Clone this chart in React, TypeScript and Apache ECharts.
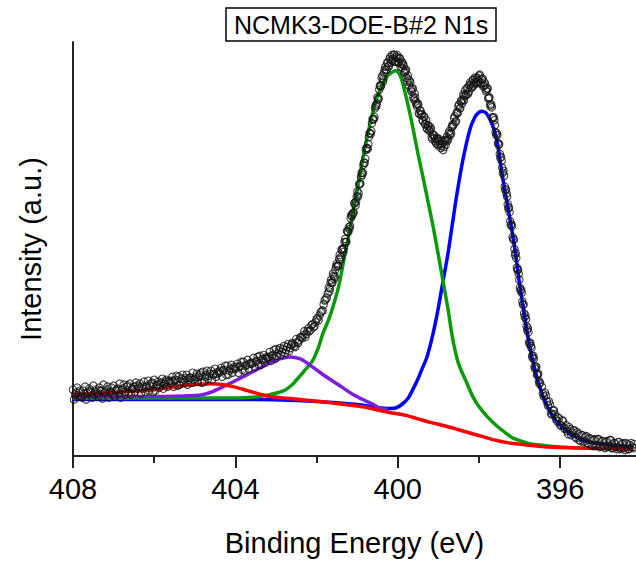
import React, { useEffect, useRef } from "react";
import * as echarts from "echarts";

const TITLE = "NCMK3-DOE-B#2 N1s";
const X_NAME = "Binding Energy (eV)";
const Y_NAME = "Intensity (a.u.)";
const X_MIN = 394.13;
const X_MAX = 408;
const X_MAJOR_TICKS = [408, 404, 400, 396];
const X_MINOR_TICKS = [406, 402, 398];

// Measured spectrum, scan segments: start energy (eV), step (eV), intensities
const SCAN_A_START = 408.0;
const SCAN_A_STEP = 0.05;
const SCAN_A = [
  67, 62, 69, 64, 60, 66, 70, 63, 68, 64, 71, 65, 63, 69, 66, 72, 65, 70, 64, 69,
  71, 66, 68, 73, 67, 72, 65, 71, 73, 68, 70, 74, 68, 73, 70, 75, 70, 76, 71, 74,
  77, 71, 75, 72, 78, 73, 77, 75, 74, 80, 76, 81, 80, 75, 82, 77, 82, 77, 79, 84,
  78, 83, 80, 84, 85, 80, 86, 81, 86, 82, 88, 83, 84, 89, 86, 91, 91, 86, 92, 88,
  88, 93, 90, 95, 95, 91, 97, 93, 93, 99, 95, 100, 101, 97, 102, 98, 99, 105, 101, 107,
  108, 104, 109, 105, 111, 107, 113, 109, 114, 111, 118, 114, 120, 119, 126, 123,
  129, 127, 133, 131, 138, 137, 145, 147, 157, 160,
];
const SCAN_A2_START = 407.975;
const SCAN_A2 = [
  57, 64, 60, 66, 59, 63, 57, 65, 66, 59, 62, 67, 60, 66, 58, 64, 67, 59, 65, 62,
  60, 67, 63, 59, 68, 62, 70, 64, 62, 68, 65, 71, 70, 63, 68, 65, 71, 66, 73, 65,
  66, 72, 69, 74, 68, 75, 70, 76, 76, 70, 77, 71, 72, 78, 74, 79, 72, 79, 74, 77,
  80, 75, 82, 74, 75, 82, 78, 83, 77, 83, 80, 85, 86, 80, 87, 82, 82, 88, 84, 90,
  90, 84, 91, 87, 86, 92, 88, 94, 94, 90, 96, 92, 92, 98, 94, 100, 100, 96, 102, 98,
  101, 107, 102, 108, 104, 110, 106, 112, 113, 110, 115, 117, 120, 122, 120, 126,
  126, 132, 130, 135, 139, 142, 146, 153, 158, 164,
];
const SCAN_B_START = 401.7;
const SCAN_B_STEP = 0.03;
const SCAN_B = [
  170, 169, 178, 175, 182, 181, 191, 192, 192, 203,
  201, 209, 206, 216, 216, 227, 226, 229, 240, 242,
  245, 255, 253, 262, 262, 274, 275, 286, 286, 296,
  300, 311, 310, 322, 326, 328, 340, 340, 351, 353,
  362, 361, 374, 374, 384, 381, 390, 390, 397, 393,
  401, 397, 405, 401, 405, 398, 405, 398, 402, 393,
  398, 396, 387, 389, 382, 384, 374, 377, 368, 371,
  360, 362, 355, 356, 346, 349, 345, 339, 343, 335,
  339, 330, 333, 328, 330, 320, 324, 321, 316, 321,
  314, 318, 311, 315, 309, 318, 314, 322, 320, 328,
  324, 332, 333, 341, 337, 346, 346, 355, 351, 359,
  360, 359, 369, 365, 372, 368, 377, 372, 379, 374,
  382, 377, 382, 377, 385, 377, 381, 373, 377, 370,
  371, 361, 362, 353, 352, 341, 339, 327, 326, 316,
  315, 301, 298, 286, 283, 269, 265, 254, 251, 237,
  234, 221, 218, 203, 200, 188, 184, 170, 168, 156,
  153, 140, 138, 127, 125, 113, 111, 101, 101, 90,
  90, 82, 83, 73,
];
const SCAN_B2_START = 401.685;
const SCAN_B2 = [
  166, 175, 175, 184, 179, 188, 194, 192, 199, 198,
  208, 208, 210, 219, 216, 227, 231, 232, 243, 244,
  246, 256, 257, 267, 265, 275, 282, 284, 294, 296,
  309, 311, 315, 326, 325, 336, 340, 342, 354, 356,
  360, 370, 373, 382, 378, 387, 393, 390, 397, 394,
  403, 400, 399, 405, 398, 403, 402, 397, 401, 396,
  392, 394, 388, 390, 378, 380, 379, 370, 371, 362,
  366, 358, 353, 355, 345, 348, 345, 338, 342, 335,
  331, 334, 329, 332, 322, 324, 324, 318, 320, 314,
  320, 315, 313, 318, 312, 319, 319, 318, 326, 325,
  326, 334, 335, 343, 338, 347, 353, 351, 358, 356,
  365, 364, 364, 371, 366, 374, 375, 372, 380, 377,
  376, 381, 379, 384, 376, 380, 381, 374, 375, 368,
  371, 362, 355, 355, 342, 342, 334, 324, 324, 314,
  305, 302, 291, 288, 272, 269, 262, 250, 246, 233,
  232, 219, 209, 205, 190, 188, 178, 167, 165, 153,
  144, 142, 131, 129, 115, 114, 109, 99, 98, 88,
  90, 82, 76, 74,
];
const SCAN_C_START = 396.45;
const SCAN_C_STEP = 0.05;
const SCAN_C = [
  70, 60, 61, 51, 52, 42, 46, 37, 39, 31, 36, 28, 31, 22, 27, 23, 26, 18, 22, 15,
  21, 15, 20, 12, 17, 10, 17, 11, 17, 10, 15, 8, 15, 10, 16, 8, 13, 7, 14, 8,
  13, 6, 12, 7, 13, 8,
];
const SCAN_C2_START = 396.425;
const SCAN_C2 = [
  63, 64, 55, 55, 43, 46, 42, 35, 38, 31, 35, 27, 25, 29, 21, 26, 19, 24, 16, 21,
  14, 19, 13, 18, 11, 16, 10, 17, 9, 15, 10, 14, 9, 16, 8, 13, 9, 14, 7, 12,
  8, 13, 7, 11, 9, 12,
];

// Fitted components (energy, intensity)
const PURPLE_E = [408.0, 406.0, 405.0, 404.8, 404.56, 404.2, 403.9, 403.57, 403.2, 402.9, 402.66, 402.4, 402.17, 402.0, 401.8, 401.5, 401.1, 400.86, 400.6, 400.44, 400.25];
const PURPLE_I = [60, 60, 61, 62, 65, 72, 78, 85, 93, 98, 100, 98, 92, 87, 81, 73, 62, 57, 52, 48, 47];

const GREEN_E = [408.0, 406.0, 404.0, 403.5, 403.15, 402.8, 402.6, 402.49, 402.3, 402.1, 401.95, 401.85, 401.7, 401.6, 401.45, 401.35, 401.2, 401.0, 400.85, 400.7, 400.55, 400.4, 400.25, 400.12, 400.05, 399.95, 399.87, 399.75, 399.63, 399.5, 399.38, 399.25, 399.13, 399.0, 398.89, 398.76, 398.64, 398.5, 398.29, 398.15, 398.0, 397.8, 397.55, 397.3, 397.16, 396.8, 396.49, 396.0, 395.5, 394.2];
const GREEN_I = [58.5, 58.5, 58.5, 59.5, 62, 66, 72, 77, 86, 96, 110, 123, 138, 150, 172, 193, 225, 268, 302, 332, 357, 373, 384, 388, 389, 385, 375, 355, 332, 305, 282, 256, 232, 203, 178, 148, 117, 93, 73, 60, 50, 40, 30, 22, 18, 13, 11, 9, 8, 7];

const BLUE_E = [408.0, 405.0, 403.5, 402.0, 401.0, 400.5, 400.2, 400.05, 399.9, 399.75, 399.63, 399.5, 399.4, 399.28, 399.15, 399.03, 398.89, 398.76, 398.64, 398.54, 398.39, 398.22, 398.1, 398.0, 397.92, 397.82, 397.73, 397.63, 397.55, 397.41, 397.23, 397.1, 397.0, 396.9, 396.8, 396.7, 396.6, 396.5, 396.4, 396.2, 396.0, 395.8, 395.6, 395.4, 395.0, 394.6, 394.2];
const BLUE_I = [57, 57, 57, 55, 52, 49, 48, 48.5, 52, 58, 67, 78, 88, 100, 120, 143, 175, 205, 238, 265, 300, 330, 342, 347, 348, 346, 340, 330, 317, 280, 238, 205, 174, 148, 122, 101, 84, 70, 58, 41, 31, 24, 19, 15, 12, 10, 9];

const RED_E = [408.0, 407.5, 407.0, 406.5, 406.0, 405.5, 405.0, 404.6, 404.3, 404.0, 403.7, 403.4, 403.15, 402.8, 402.4, 401.9, 401.5, 401.1, 400.76, 400.44, 400.2, 399.8, 399.5, 399.2, 398.8, 398.5, 398.2, 397.9, 397.6, 397.3, 397.0, 396.7, 396.3, 396.0, 395.5, 394.8, 394.2];
const RED_I = [62, 63, 64, 65.5, 67, 70, 72, 73, 72, 69.5, 66, 62.5, 60, 58.5, 57, 55, 53, 51, 49, 46, 44, 41, 37.5, 34, 30, 26.5, 23, 19.5, 16, 13.5, 12, 10.5, 9, 8.5, 8, 7.5, 7];

const FONT = "'Liberation Sans', Arial, Helvetica, sans-serif";

function scanPairs(start: number, step: number, values: number[]) {
  return values.map((v, i) => [+(start - i * step).toFixed(3), v]);
}
function pairs(e: number[], v: number[]) {
  return e.map((x, i) => [x, v[i]]);
}

export default function App() {
  const ref = useRef<HTMLDivElement>(null);
  useEffect(() => {
    if (!ref.current) return;
    const chart = echarts.init(ref.current, undefined, { renderer: "svg" });
    const scan = [
      ...scanPairs(SCAN_A_START, SCAN_A_STEP, SCAN_A),
      ...scanPairs(SCAN_A2_START, SCAN_A_STEP, SCAN_A2),
      ...scanPairs(SCAN_B_START, SCAN_B_STEP, SCAN_B),
      ...scanPairs(SCAN_B2_START, SCAN_B_STEP, SCAN_B2),
      ...scanPairs(SCAN_C_START, SCAN_C_STEP, SCAN_C),
      ...scanPairs(SCAN_C2_START, SCAN_C_STEP, SCAN_C2),
    ];
    const axisLine = { color: "#222", width: 2 };
    const lineSeries = (name: string, data: number[][], color: string, z: number) => ({
      name,
      type: "line",
      data,
      smooth: 0.3,
      showSymbol: false,
      symbol: "none",
      z,
      lineStyle: { color, width: 3.5 },
      itemStyle: { color },
    });
    chart.setOption({
      animation: false,
      backgroundColor: "#fff",
      title: {
        text: TITLE,
        left: 226,
        top: 8,
        padding: [4, 8, 4, 8],
        borderColor: "#000",
        borderWidth: 1.5,
        textStyle: { fontFamily: FONT, fontSize: 25, fontWeight: "normal", color: "#000" },
      },
      grid: { left: 73, right: 0, top: 42, bottom: 102 },
      xAxis: [
        {
          type: "value",
          min: X_MIN,
          max: X_MAX,
          inverse: true,
          position: "bottom",
          axisLine: { show: true, onZero: false, lineStyle: axisLine },
          axisTick: { show: true, customValues: X_MAJOR_TICKS, length: 12, lineStyle: axisLine },
          axisLabel: { customValues: X_MAJOR_TICKS, margin: 18, fontSize: 29, color: "#000", fontFamily: FONT },
          splitLine: { show: false },
          name: X_NAME,
          nameLocation: "middle",
          nameGap: 72,
          nameTextStyle: { fontSize: 29, color: "#000", fontFamily: FONT },
        },
        {
          type: "value",
          min: X_MIN,
          max: X_MAX,
          inverse: true,
          position: "bottom",
          axisLine: { show: false, onZero: false },
          axisTick: { show: true, customValues: X_MINOR_TICKS, length: 7, lineStyle: axisLine },
          axisLabel: { show: false },
          splitLine: { show: false },
        },
      ],
      yAxis: {
        type: "value",
        min: 0,
        max: 418,
        axisLine: { show: true, onZero: false, lineStyle: axisLine },
        axisTick: { show: false },
        axisLabel: { show: false },
        splitLine: { show: false },
        name: Y_NAME,
        nameLocation: "middle",
        nameGap: 28,
        nameTextStyle: { fontSize: 29, color: "#000", fontFamily: FONT },
      },
      series: [
        lineSeries("Blue", pairs(BLUE_E, BLUE_I), "#0000ff", 2),
        lineSeries("Green", pairs(GREEN_E, GREEN_I), "#0b9a0b", 3),
        lineSeries("Purple", pairs(PURPLE_E, PURPLE_I), "#7b1ee0", 4),
        lineSeries("Red", pairs(RED_E, RED_I), "#ff0000", 5),
        {
          name: "Data",
          type: "scatter",
          data: scan,
          symbol: "circle",
          symbolSize: 7.5,
          z: 10,
          itemStyle: { color: "rgba(255,255,255,0)", borderColor: "#151515", borderWidth: 1.1 },
        },
      ],
    });
    return () => chart.dispose();
  }, []);
  return (
    <div
      ref={ref}
      style={{ position: "fixed", left: 0, top: 0, width: 636, height: 562, background: "#fff" }}
    />
  );
}
